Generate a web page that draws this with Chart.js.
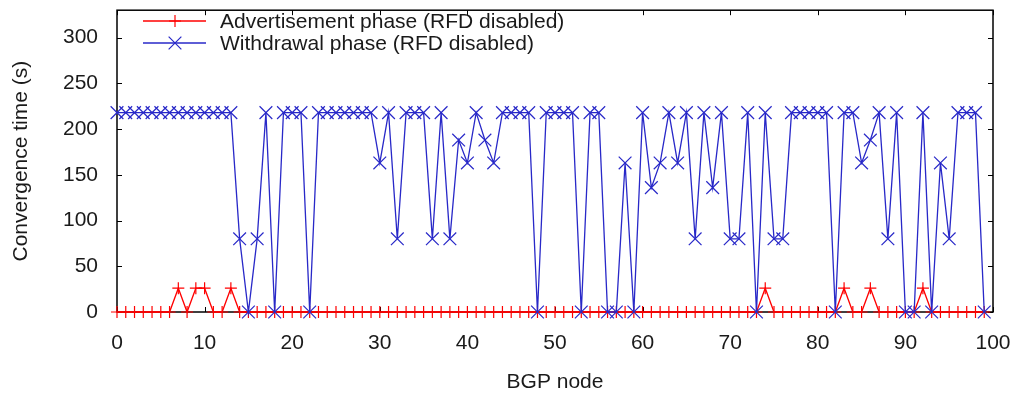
<!DOCTYPE html>
<html>
<head>
<meta charset="utf-8">
<script src="https://cdn.jsdelivr.net/npm/chart.js@4.4.1/dist/chart.umd.min.js"></script>
<style>
  html, body { margin: 0; padding: 0; background: #fff; }
  canvas { display: block; }
</style>
</head>
<body>
<canvas id="chart" width="1019" height="396"></canvas>
<script>
// BGP node ids (x)
const nodes = [
   0,  1,  2,  3,  4,  5,  6,  7,  8,  9,
  10, 11, 12, 13, 14, 15, 16, 17, 18, 19,
  20, 21, 22, 23, 24, 25, 26, 27, 28, 29,
  30, 31, 32, 33, 34, 35, 36, 37, 38, 39,
  40, 41, 42, 43, 44, 45, 46, 47, 48, 49,
  50, 51, 52, 53, 54, 55, 56, 57, 58, 59,
  60, 61, 62, 63, 64, 65, 66, 67, 68, 69,
  70, 71, 72, 73, 74, 75, 76, 77, 78, 79,
  80, 81, 82, 83, 84, 85, 86, 87, 88, 89,
  90, 91, 92, 93, 94, 95, 96, 97, 98, 99
];

// convergence time (s), advertisement phase
const advertisement = [
  0, 0, 0, 0, 0, 0, 0, 26, 0, 26,
  26, 0, 0, 26, 0, 0, 0, 0, 0, 0,
  0, 0, 0, 0, 0, 0, 0, 0, 0, 0,
  0, 0, 0, 0, 0, 0, 0, 0, 0, 0,
  0, 0, 0, 0, 0, 0, 0, 0, 0, 0,
  0, 0, 0, 0, 0, 0, 0, 0, 0, 0,
  0, 0, 0, 0, 0, 0, 0, 0, 0, 0,
  0, 0, 0, 0, 26, 0, 0, 0, 0, 0,
  0, 0, 0, 26, 0, 0, 26, 0, 0, 0,
  0, 0, 26, 0, 0, 0, 0, 0, 0, 0
];

// convergence time (s), withdrawal phase
const withdrawal = [
  218, 218, 218, 218, 218, 218, 218, 218, 218, 218,
  218, 218, 218, 218, 80, 0, 80, 218, 0, 218,
  218, 218, 0, 218, 218, 218, 218, 218, 218, 218,
  163, 218, 80, 218, 218, 218, 80, 218, 80, 188,
  163, 218, 188, 163, 218, 218, 218, 218, 0, 218,
  218, 218, 218, 0, 218, 218, 0, 0, 163, 0,
  218, 136, 163, 218, 163, 218, 80, 218, 136, 218,
  80, 80, 218, 0, 218, 80, 80, 218, 218, 218,
  218, 218, 0, 218, 218, 163, 188, 218, 80, 218,
  0, 0, 218, 0, 163, 80, 218, 218, 218, 0
];

const xTicks = [0, 10, 20, 30, 40, 50, 60, 70, 80, 90, 100];
const yTicks = [0, 50, 100, 150, 200, 250, 300];

const FONT = "'Liberation Sans', Arial, sans-serif";
const FSIZE = 21;
const TEXT = '#1a1a1a';
const RED = 'rgb(255, 0, 0)';
const BLUE = 'rgb(40, 40, 200)';

// gnuplot style frame with inward ticks on all four sides
const framePlugin = {
  id: 'frame',
  beforeDatasetsDraw(chart) {
    const {ctx, chartArea: a, scales: {x, y}} = chart;
    const len = 5;
    ctx.save();
    ctx.strokeStyle = '#000';
    ctx.lineWidth = 1.5;
    ctx.strokeRect(a.left, a.top, a.right - a.left, a.bottom - a.top);
    ctx.lineWidth = 1;
    ctx.beginPath();
    xTicks.forEach(v => {
      const px = Math.round(x.getPixelForValue(v)) + 0.5;
      ctx.moveTo(px, a.bottom); ctx.lineTo(px, a.bottom - len);
      ctx.moveTo(px, a.top); ctx.lineTo(px, a.top + len);
    });
    yTicks.forEach(v => {
      const py = Math.round(y.getPixelForValue(v)) + 0.5;
      ctx.moveTo(a.left, py); ctx.lineTo(a.left + len, py);
      ctx.moveTo(a.right, py); ctx.lineTo(a.right - len, py);
    });
    ctx.stroke();
    ctx.restore();
  }
};

// key in the top-left corner of the plot
const keyPlugin = {
  id: 'key',
  afterDatasetsDraw(chart) {
    const {ctx} = chart;
    const rows = [21, 43];
    ctx.save();
    ctx.font = FSIZE + 'px ' + FONT;
    ctx.textBaseline = 'middle';
    ctx.textAlign = 'left';
    chart.data.datasets.forEach((ds, i) => {
      const yy = rows[i];
      ctx.strokeStyle = ds.borderColor;
      ctx.lineWidth = 1.5;
      ctx.beginPath();
      ctx.moveTo(143, yy);
      ctx.lineTo(206, yy);
      ctx.stroke();
      ctx.lineWidth = 1.2;
      Chart.helpers.drawPoint(ctx, {pointStyle: ds.pointStyle, radius: ds.pointRadius, rotation: 0, borderWidth: 1.2}, 175, yy);
      ctx.fillStyle = TEXT;
      ctx.fillText(ds.label, 220, yy + 1);
    });
    ctx.restore();
  }
};

new Chart(document.getElementById('chart'), {
  type: 'line',
  data: {
    datasets: [
      {
        label: 'Advertisement phase (RFD disabled)',
        data: nodes.map((n, i) => ({x: n, y: advertisement[i]})),
        borderColor: RED,
        backgroundColor: RED,
        borderWidth: 1.3,
        pointStyle: 'cross',
        pointRadius: 6,
        pointBorderWidth: 1.2,
        pointBorderColor: RED,
        tension: 0,
        clip: false,
        order: 1
      },
      {
        label: 'Withdrawal phase (RFD disabled)',
        data: nodes.map((n, i) => ({x: n, y: withdrawal[i]})),
        borderColor: BLUE,
        backgroundColor: BLUE,
        borderWidth: 1.3,
        pointStyle: 'crossRot',
        pointRadius: 9,
        pointBorderWidth: 1.2,
        pointBorderColor: BLUE,
        tension: 0,
        clip: false,
        order: 0
      }
    ]
  },
  options: {
    responsive: false,
    animation: false,
    layout: {padding: {top: 8, right: 26, bottom: 0, left: 0}},
    plugins: {
      legend: {display: false},
      tooltip: {enabled: false}
    },
    scales: {
      x: {
        type: 'linear',
        min: 0,
        max: 100,
        afterFit: s => {
          s.height = 84;
          s.paddingLeft = 0; s.paddingRight = 0;
        },
        afterBuildTicks: s => { s.ticks = xTicks.map(v => ({value: v})); },
        grid: {display: false, drawTicks: false},
        border: {display: false},
        ticks: {
          autoSkip: false,
          maxRotation: 0,
          padding: 19,
          color: TEXT,
          font: {family: FONT, size: FSIZE}
        },
        title: {
          display: true,
          text: 'BGP node',
          color: TEXT,
          font: {family: FONT, size: FSIZE},
          padding: {top: 0, bottom: 1}
        }
      },
      y: {
        min: 0,
        max: 330,
        afterFit: s => {
          s.width = 117;
          s.paddingTop = 0; s.paddingBottom = 0;
        },
        afterBuildTicks: s => { s.ticks = yTicks.map(v => ({value: v})); },
        grid: {display: false, drawTicks: false},
        border: {display: false},
        ticks: {
          padding: 19,
          color: TEXT,
          font: {family: FONT, size: FSIZE}
        },
        title: {
          display: true,
          text: 'Convergence time (s)',
          color: TEXT,
          font: {family: FONT, size: FSIZE},
          padding: {top: 9, bottom: 0}
        }
      }
    }
  },
  plugins: [framePlugin, keyPlugin]
});
</script>
</body>
</html>
